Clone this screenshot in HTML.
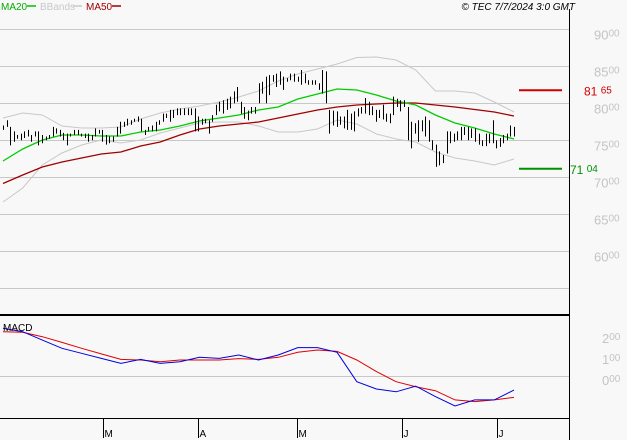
<!DOCTYPE html>
<html><head><meta charset="utf-8"><style>
html,body{margin:0;padding:0;background:#f8f8f8;}
svg{display:block;font-family:"Liberation Sans",Arial,sans-serif;}
</style></head><body>
<svg id="chart" width="627" height="440" viewBox="0 0 627 440">
<rect x="0" y="0" width="627" height="440" fill="#f8f8f8"/>
<g font-size="10">
<text x="1" y="10" fill="#00b000">MA20</text>
<line x1="27" y1="6" x2="36" y2="6" stroke="#00c000" stroke-width="1.5"/>
<text x="40" y="10" fill="#c8c8c8">BBands</text>
<line x1="73" y1="6" x2="82" y2="6" stroke="#c8c8c8" stroke-width="1.5"/>
<text x="86" y="10" fill="#a00000">MA50</text>
<line x1="112" y1="6" x2="121" y2="6" stroke="#a00000" stroke-width="1.5"/>
</g>
<text x="575" y="10" text-anchor="end" font-size="10" font-style="italic" fill="#000">© TEC 7/7/2024 3:0 GMT</text>
<g id="grid"></g>
<g id="ylabels"></g>
<g id="lines"></g>
<g id="bars"></g>
<g id="macd"></g>
<g id="xaxis"></g>
<line x1="569.5" y1="9" x2="569.5" y2="440" stroke="#000" stroke-width="1"/>
<line x1="0" y1="315" x2="569" y2="315" stroke="#000" stroke-width="2"/>
<line x1="0" y1="418.5" x2="569" y2="418.5" stroke="#000" stroke-width="1"/>
<text x="3" y="331" font-size="10" fill="#000">MACD</text>
</svg>
<script>
const highs=[76.9,77.6,76.7,76.1,75.6,75.8,76.1,76.3,75.6,76.1,76.1,75.6,75.4,75.6,76.7,76.5,76.3,75.9,75.8,75.8,76.3,76.3,75.8,75.8,75.8,75.6,76.5,76.3,76.3,75.6,75.4,75.4,76.7,77.4,77.4,77.8,77.6,77.8,78.1,77.8,76.3,76.7,76.9,77.4,77.6,78.5,78.5,79.0,79.0,79.2,79.2,79.2,79.2,79.2,79.2,78.1,77.8,77.8,77.6,78.3,79.7,80.1,80.3,80.5,80.8,81.5,82.1,80.1,79.4,78.9,79.4,79.4,82.6,82.8,83.5,83.7,83.7,83.9,84.2,83.5,83.3,83.9,83.9,83.5,84.4,83.9,83.0,83.0,83.0,82.6,84.4,84.2,79.0,78.9,78.8,78.1,78.1,79.0,78.5,78.8,79.2,79.4,80.6,80.1,79.5,79.0,79.0,79.7,78.5,78.5,80.8,80.5,80.3,80.3,79.4,77.4,77.2,77.6,77.6,78.1,77.6,74.9,74.3,73.4,72.9,76.1,76.1,75.8,76.1,76.7,76.7,76.7,76.5,76.5,75.8,74.9,75.8,75.8,77.6,74.9,75.2,75.6,75.8,76.9,76.7];
const lows=[76.3,76.7,74.2,74.7,75.1,74.9,75.2,75.4,74.7,75.4,74.2,74.5,74.9,75.1,75.4,75.8,75.4,74.9,74.2,75.4,75.6,75.6,75.4,75.2,74.7,74.9,75.4,75.8,74.7,74.3,74.5,74.7,75.4,75.8,76.7,76.9,77.0,77.4,77.4,76.1,75.6,76.1,76.1,76.1,77.0,77.4,77.9,77.4,77.9,78.3,78.3,78.3,78.3,78.3,76.1,76.1,77.0,77.2,75.8,77.4,78.3,78.8,78.5,79.0,79.2,79.9,80.1,78.5,77.8,77.6,78.5,78.5,79.9,81.2,79.9,81.0,82.8,82.1,82.4,81.7,82.8,83.0,82.8,82.8,82.4,82.6,82.4,82.4,82.4,81.7,81.2,79.9,75.8,76.9,76.7,77.0,76.5,76.3,76.3,76.1,78.1,78.5,78.5,78.3,78.3,77.4,77.9,77.7,77.4,77.2,78.3,79.4,78.8,79.4,74.9,73.8,75.8,74.7,76.1,75.4,74.7,73.6,71.3,71.5,71.8,73.1,74.5,74.7,74.9,74.9,75.6,74.9,75.2,74.7,74.3,74.1,74.1,74.5,74.5,73.8,74.0,74.5,74.9,75.4,75.4];
const ma20=[72.09,73.72,74.93,75.61,75.61,75.47,75.47,76.01,76.28,76.82,77.50,77.91,78.31,78.99,79.39,80.47,81.15,81.82,81.69,81.01,80.20,79.66,78.31,77.23,76.55,75.74,75.07];
const ma50=[69.05,70.20,71.28,71.96,72.50,73.04,73.31,74.12,74.66,75.61,76.42,76.82,77.09,77.36,77.91,78.45,78.99,79.39,79.66,79.80,79.93,79.93,79.66,79.39,79.05,78.72,78.18];
const bbUpper=[77.91,78.58,78.31,76.82,76.55,76.55,76.69,77.77,78.58,79.12,79.53,80.07,80.74,81.55,82.91,83.85,84.53,85.20,86.08,86.15,85.74,84.39,81.55,81.55,81.28,80.07,78.72];
const bbLower=[66.55,68.45,71.55,73.18,74.26,74.93,74.53,74.93,75.88,76.55,77.23,77.36,77.36,76.82,76.01,76.01,76.42,77.64,77.09,75.74,75.07,74.66,73.31,72.50,72.09,71.55,72.36];
const macdLine=[2.27,2.11,1.71,1.32,1.08,0.84,0.60,0.79,0.60,0.68,0.89,0.84,1.00,0.76,1.00,1.35,1.35,1.13,-0.27,-0.62,-0.75,-0.48,-0.98,-1.43,-1.14,-1.14,-0.67];
const signalLine=[2.11,2.08,1.87,1.60,1.32,1.05,0.79,0.76,0.68,0.76,0.76,0.76,0.83,0.79,0.89,1.13,1.24,1.17,0.76,0.21,-0.27,-0.51,-0.70,-1.14,-1.22,-1.14,-1.02];
const priceTicks=[90,85,80,75,70,65,60,55];
const priceTickLabels=["90","85","80","75","70","65","60",""];
const macdTicks=[2,1,0];
const macdTickLabels=["2","1","0"];
const monthLabels=["M","A","M","J","J"];
const monthFractions=[0.1957,0.3816,0.5753,0.7808,0.9667];
const resistance=81.65, support=71.04;

const NS="http://www.w3.org/2000/svg";
const X0=3,X1=514;
function py(p){return 102.5+(80-p)*7.4;}
function my(v){return 376-v*21;}
function xAt(i,n){return X0+(X1-X0)*i/(n-1);}
function mk(tag,attrs,parent){const e=document.createElementNS(NS,tag);for(const k in attrs)e.setAttribute(k,attrs[k]);parent.appendChild(e);return e;}
const grid=document.getElementById('grid'),yl=document.getElementById('ylabels'),lines=document.getElementById('lines'),bars=document.getElementById('bars'),macd=document.getElementById('macd'),xa=document.getElementById('xaxis');

priceTicks.forEach((t,i)=>{
  const y=Math.round(py(t))+0.5;
  const l=mk('line',{x1:0,y1:y,x2:569,y2:y,stroke:'#c8c8c8','stroke-width':1},grid);
  
  
  if(priceTickLabels[i]){
    const tx=mk('text',{x:594,y:y+10,'font-size':13,fill:'#c4c4c4'},yl);
    
    
    tx.textContent=priceTickLabels[i];
    const s=mk('tspan',{'font-size':10,dy:-3},tx);s.textContent="00";
  }
});
macdTicks.forEach((t,i)=>{
  if(t===0){const l=mk('line',{x1:0,y1:my(0)+0.5,x2:569,y2:my(0)+0.5,stroke:'#c8c8c8','stroke-width':1},grid);
    
    }
  const tx=mk('text',{x:602,y:my(t)+9,'font-size':13,fill:'#c4c4c4'},yl);
  
  
  tx.textContent=macdTickLabels[i];
  const s=mk('tspan',{'font-size':10,dy:-3},tx);s.textContent="00";
});
function poly(arr,fy,color,w,name,parent){
  const pts=arr.map((v,i)=>xAt(i,arr.length).toFixed(1)+','+fy(v).toFixed(1)).join(' ');
  const p=mk('polyline',{points:pts,fill:'none',stroke:color,'stroke-width':w},parent);
  
  
}
poly(bbUpper,py,'#c8c8c8',1,'bband-upper',lines);
poly(bbLower,py,'#c8c8c8',1,'bband-lower',lines);
poly(ma50,py,'#a00000',1.3,'ma50-line',lines);
poly(ma20,py,'#00cc00',1.3,'ma20-line',lines);
highs.forEach((h,i)=>{
  const x=Math.round(xAt(i,highs.length))+0.5;
  const b=mk('line',{x1:x,y1:py(h),x2:x,y2:py(lows[i]),stroke:'#000','stroke-width':1},bars);
  
  
});
// support / resistance
const rl=mk('line',{x1:519,y1:py(resistance),x2:562,y2:py(resistance),stroke:'#d00000','stroke-width':2},lines);


const rt=mk('text',{x:584,y:py(resistance)+5,'font-size':12,fill:'#d00000'},yl);


rt.textContent="81 ";const rs=mk('tspan',{'font-size':10,dy:-2},rt);rs.textContent="65";
const sl=mk('line',{x1:519,y1:py(support),x2:562,y2:py(support),stroke:'#009000','stroke-width':2},lines);


const st=mk('text',{x:570,y:py(support)+5,'font-size':12,fill:'#009000'},yl);


st.textContent="71 ";const ss=mk('tspan',{'font-size':10,dy:-2},st);ss.textContent="04";
poly(signalLine,my,'#e00000',1,'macd-signal-line',macd);
poly(macdLine,my,'#0000e0',1,'macd-line',macd);
monthLabels.forEach((m,i)=>{
  const x=Math.round(X0+(X1-X0)*monthFractions[i])+0.5;
  const t=mk('line',{x1:x,y1:419,x2:x,y2:438,stroke:'#000','stroke-width':1},xa);
  
  
  const tx=mk('text',{x:x+1,y:437,'font-size':10,fill:'#000'},xa);
  
  
  tx.textContent=m;
});
</script>
</body></html>
